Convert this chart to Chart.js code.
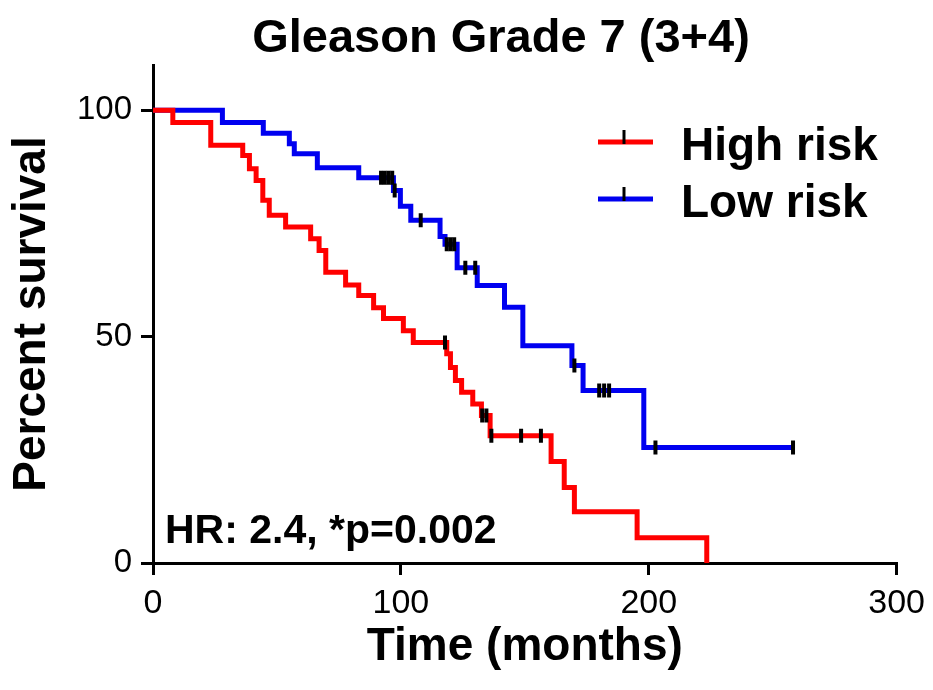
<!DOCTYPE html>
<html>
<head>
<meta charset="utf-8">
<script src="https://cdn.jsdelivr.net/npm/chart.js@4.4.0/dist/chart.umd.min.js"></script>
<style>
  html, body { margin: 0; padding: 0; background: #fff; }
</style>
</head>
<body>
<canvas id="kmChart" width="933" height="690"></canvas>
<script>
// Kaplan-Meier steps (months, % surviving after the step)
const highTimes = [0, 8, 23.3, 36.2, 38.9, 41.6, 44.3, 46.9, 53.5, 63.6, 67, 69.7, 77.7, 83, 89, 93, 101, 105,
  118.5, 120, 122, 124.5, 129, 132.5, 136, 160.6, 165.9, 170, 195.3, 223.4];
const highSurv = [100, 97.3, 92.3, 90.0, 87.1, 84.5, 80.1, 76.8, 74.2, 71.6, 69.0, 64.2, 61.4, 59.1, 56.4, 54.0, 51.3, 48.7,
  46.2, 43.2, 40.3, 37.7, 35.1, 32.6, 28.1, 22.4, 16.7, 11.3, 5.6, 0];
const highCensorTimes = [117.8, 132.8, 134.5, 136.5, 148.5, 156.5];
const highCensorSurv = [48.7, 32.6, 32.6, 28.1, 28.1, 28.1];

const lowTimes = [0, 28, 44.5, 55, 57, 66.3, 83, 97, 99.8, 104, 115.8, 117.8, 122.7, 130.8, 141.8, 149.2, 169, 173.5, 198, 258.2];
const lowSurv = [100, 97.3, 94.9, 92.6, 90.4, 87.3, 85.1, 82.3, 78.8, 75.7, 72.1, 70.4, 65.2, 61.3, 56.5, 48.0, 43.6, 38.1, 25.5, 25.5];
const lowCensorTimes = [92, 93.5, 95, 96.5, 97.5, 108, 118.5, 120, 121.5, 126, 130, 170, 180, 182, 184, 202.7, 258.2];
const lowCensorSurv = [85.1, 85.1, 85.1, 85.1, 82.3, 75.7, 70.4, 70.4, 70.4, 65.2, 65.2, 43.6, 38.1, 38.1, 38.1, 25.5, 25.5];

const seriesNames = ["High risk", "Low risk"];
const seriesColors = ["#ff0000", "#0000f0"];
const xTicks = [0, 100, 200, 300];
const yTicks = [0, 50, 100];

const chartTitle = "Gleason Grade 7 (3+4)";
const statsNote = "HR: 2.4, *p=0.002";

const FONT = "'Liberation Sans', Arial, sans-serif";

function toPoints(xs, ys) {
  return xs.map((x, i) => ({ x: x, y: ys[i] }));
}

function censorSet(xs, ys) {
  return {
    type: "scatter",
    data: toPoints(xs, ys),
    showLine: false,
    pointStyle: "line",
    rotation: 90,
    pointRadius: 7,
    pointHoverRadius: 7,
    pointBorderWidth: 4,
    borderColor: "#000",
    backgroundColor: "#000",
    order: 0,
  };
}

// title, legend and the HR note
const overlayText = {
  id: "overlayText",
  afterDraw(chart) {
    const ctx = chart.ctx;
    ctx.save();
    ctx.fillStyle = "#000";
    ctx.textBaseline = "alphabetic";

    ctx.font = "bold 47px " + FONT;
    ctx.textAlign = "center";
    ctx.fillText(chartTitle, 501, 52);

    const rows = [142, 199];
    ctx.font = "bold 46px " + FONT;
    ctx.textAlign = "left";
    seriesNames.forEach((name, i) => {
      const y = rows[i];
      ctx.strokeStyle = seriesColors[i];
      ctx.lineWidth = 5;
      ctx.beginPath();
      ctx.moveTo(598, y);
      ctx.lineTo(653, y);
      ctx.stroke();
      ctx.strokeStyle = "#000";
      ctx.lineWidth = 3;
      ctx.beginPath();
      ctx.moveTo(624, y - 12);
      ctx.lineTo(624, y + 2);
      ctx.stroke();
      ctx.fillText(name, 681, y + 18);
    });

    ctx.font = "bold 41px " + FONT;
    ctx.fillText(statsNote, 165, 543);
    ctx.restore();
  },
};

const ctx = document.getElementById("kmChart").getContext("2d");

new Chart(ctx, {
  type: "line",
  data: {
    datasets: [
      censorSet(highCensorTimes, highCensorSurv),
      censorSet(lowCensorTimes, lowCensorSurv),
      {
        label: seriesNames[0],
        data: toPoints(highTimes, highSurv),
        stepped: "before",
        borderColor: seriesColors[0],
        backgroundColor: seriesColors[0],
        borderWidth: 5,
        pointRadius: 0,
        fill: false,
        order: 1,
      },
      {
        label: seriesNames[1],
        data: toPoints(lowTimes, lowSurv),
        stepped: "before",
        borderColor: seriesColors[1],
        backgroundColor: seriesColors[1],
        borderWidth: 5,
        pointRadius: 0,
        fill: false,
        order: 1,
      },
    ],
  },
  options: {
    responsive: false,
    animation: false,
    devicePixelRatio: 1,
    layout: { padding: { top: 65, right: 32, left: 0, bottom: 0 } },
    plugins: {
      legend: { display: false },
      title: { display: false },
      tooltip: { enabled: false },
    },
    scales: {
      x: {
        type: "linear",
        min: 0,
        max: 300,
        afterBuildTicks: (axis) => {
          axis.ticks = xTicks.map((v) => ({ value: v }));
        },
        afterFit: (axis) => {
          axis.height = 127;
        },
        ticks: {
          color: "#000",
          padding: 8,
          maxRotation: 0,
          font: { family: FONT, size: 34 },
        },
        grid: {
          drawOnChartArea: false,
          color: "#000",
          lineWidth: 3,
          tickLength: 12,
        },
        border: { display: true, color: "#000", width: 3 },
        title: {
          display: true,
          text: "Time (months)",
          color: "#000",
          font: { family: FONT, size: 46, weight: "bold" },
          padding: { top: 0, bottom: 15 },
        },
      },
      y: {
        min: 0,
        max: 110,
        afterBuildTicks: (axis) => {
          axis.ticks = yTicks.map((v) => ({ value: v }));
        },
        afterFit: (axis) => {
          axis.width = 153;
        },
        ticks: {
          color: "#000",
          padding: 9,
          font: { family: FONT, size: 33 },
        },
        grid: {
          drawOnChartArea: false,
          color: "#000",
          lineWidth: 3,
          tickLength: 12,
        },
        border: { display: true, color: "#000", width: 3 },
        title: {
          display: true,
          text: "Percent survival",
          color: "#000",
          font: { family: FONT, size: 46, weight: "bold" },
          padding: { top: 5, bottom: 0 },
        },
      },
    },
  },
  plugins: [overlayText],
});
</script>
</body>
</html>
